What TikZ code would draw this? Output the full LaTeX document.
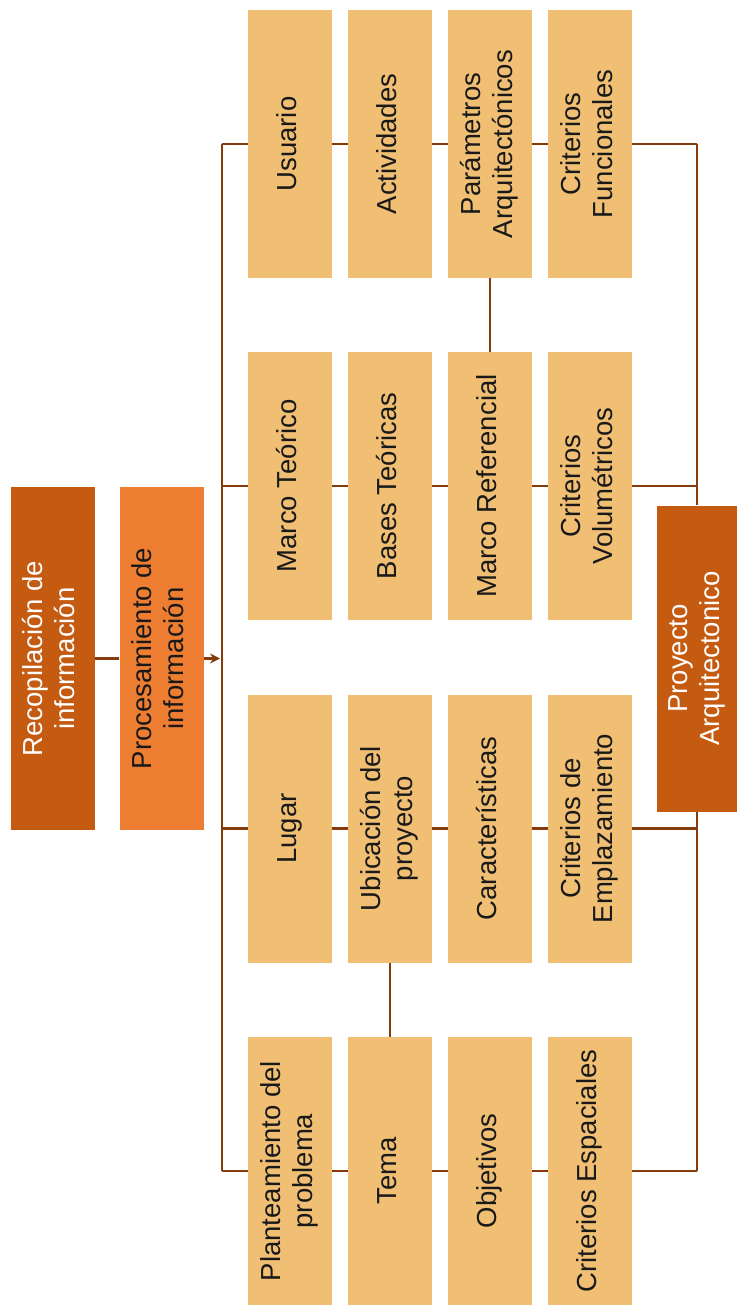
\documentclass[tikz,border=0pt]{standalone}
\usepackage{graphicx}
\usepackage{fontspec}
\setmainfont{Liberation Sans}
\usetikzlibrary{arrows.meta}

\definecolor{boxtan}{HTML}{F0BF74}
\definecolor{darkrust}{HTML}{C55A11}
\definecolor{orangeacc}{HTML}{ED7D31}
\definecolor{linebrown}{HTML}{843C0C}

% vertical text: lines read from bottom to top
\newcommand{\vtext}[1]{\rotatebox{90}{\begin{tabular}{@{}c@{}}#1\end{tabular}}}

\tikzset{
  lbox/.style={fill=boxtan, draw=none, minimum width=84pt, minimum height=268pt,
               inner sep=0pt, text=black!90, font=\fontsize{27.5}{32}\selectfont},
  hbox/.style={draw=none, minimum width=84pt, minimum height=343pt,
               inner sep=0pt, font=\fontsize{27.5}{32}\selectfont},
  link/.style={draw=linebrown, line width=2.7pt},
}

\begin{document}
\begin{tikzpicture}[x=1pt, y=-1pt]
\useasboundingbox (0,0) rectangle (738,1305);

% header boxes
\node[hbox, fill=darkrust, text=white] (rec) at (52.5,658.5) {\vtext{Recopilación de\\información}};
\node[hbox, fill=orangeacc, text=black!90] (pro) at (161.5,658.5) {\vtext{Procesamiento de\\información}};

% row 1
\node[lbox] (usu) at (290,144) {\vtext{Usuario}};
\node[lbox] (act) at (390,144) {\vtext{Actividades}};
\node[lbox] (par) at (490,144) {\vtext{Parámetros\\Arquitectónicos}};
\node[lbox] (cfu) at (590,144) {\vtext{Criterios\\Funcionales}};

% row 2
\node[lbox] (mte) at (290,486) {\vtext{Marco Teórico}};
\node[lbox] (bte) at (390,486) {\vtext{Bases Teóricas}};
\node[lbox] (mre) at (490,486) {\vtext{Marco Referencial}};
\node[lbox] (cvo) at (590,486) {\vtext{Criterios\\Volumétricos}};

% row 3
\node[lbox] (lug) at (290,828.5) {\vtext{Lugar}};
\node[lbox] (ubi) at (390,828.5) {\vtext{Ubicación del\\proyecto}};
\node[lbox] (car) at (490,828.5) {\vtext{Características}};
\node[lbox] (cem) at (590,828.5) {\vtext{Criterios de\\Emplazamiento}};

% row 4
\node[lbox] (pla) at (290,1171) {\vtext{Planteamiento del\\problema}};
\node[lbox] (tem) at (390,1171) {\vtext{Tema}};
\node[lbox] (obj) at (490,1171) {\vtext{Objetivos}};
\node[lbox] (ces) at (590,1171) {\vtext{Criterios Espaciales}};

% result box
\node[draw=none, fill=darkrust, text=white, minimum width=80pt, minimum height=306pt,
      inner sep=0pt, font=\fontsize{27.5}{32}\selectfont] (pry) at (697,658.5)
      {\vtext{Proyecto\\Arquitectonico}};

% trunk and return line anchor points
\coordinate (t0) at (222,658.5);
\coordinate (t1) at (222,144);
\coordinate (t2) at (222,486);
\coordinate (t3) at (222,828.5);
\coordinate (t4) at (222,1171);
\coordinate (r1) at (697,144);
\coordinate (r2) at (697,486);
\coordinate (r3) at (697,828.5);
\coordinate (r4) at (697,1171);

% connectors
\draw[link] (rec.east) -- (pro.west);
\draw[link, -{Stealth[length=10pt, width=10pt]}] (pro.east) -- ([xshift=-2pt]t0);
\draw[link] (t1) -- (t4);

\draw[link] (t1) -- (usu.west);
\draw[link] (usu.east) -- (act.west);
\draw[link] (act.east) -- (par.west);
\draw[link] (par.east) -- (cfu.west);
\draw[link] (cfu.east) -- (r1);

\draw[link] (t2) -- (mte.west);
\draw[link] (mte.east) -- (bte.west);
\draw[link] (bte.east) -- (mre.west);
\draw[link] (mre.east) -- (cvo.west);
\draw[link] (cvo.east) -- (r2);

\draw[link] (t3) -- (lug.west);
\draw[link] (lug.east) -- (ubi.west);
\draw[link] (ubi.east) -- (car.west);
\draw[link] (car.east) -- (cem.west);
\draw[link] (cem.east) -- (r3);

\draw[link] (t4) -- (pla.west);
\draw[link] (pla.east) -- (tem.west);
\draw[link] (tem.east) -- (obj.west);
\draw[link] (obj.east) -- (ces.west);
\draw[link] (ces.east) -- (r4);

\draw[link] (r1) -- (pry.north);
\draw[link] (pry.south) -- (r4);

\draw[link] (par.south) -- (mre.north);
\draw[link] (ubi.south) -- (tem.north);
\end{tikzpicture}
\end{document}
